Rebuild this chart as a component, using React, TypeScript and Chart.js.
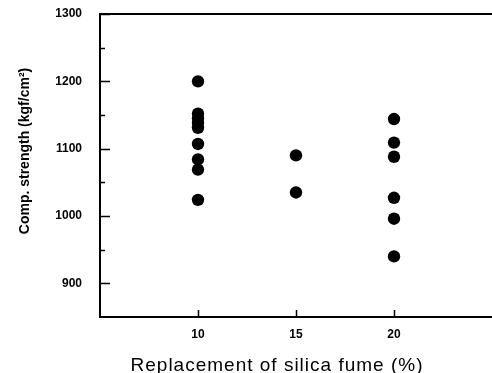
import React, { useEffect, useRef } from "react";
import { Chart, registerables } from "chart.js";

Chart.register(...registerables);

const xTickValues = [10, 15, 20];
const yTickValues = [900, 1000, 1100, 1200, 1300];
const yMinorTickValues = [950, 1050, 1150, 1250];

const replacement10 = [1200, 1152, 1145, 1138, 1131, 1107, 1084, 1069, 1024];
const replacement15 = [1090, 1035];
const replacement20 = [1144, 1109, 1088, 1027, 996, 940];

const xTitle = "Replacement of silica fume (%)";
const yTitle = "Comp. strength (kgf/cm\u00b2)";

const FONT = "'Liberation Sans', Arial, sans-serif";

const framePlugin = {
  id: "frame",
  afterDraw(chart: any) {
    const { ctx, chartArea, scales } = chart;
    const xs = scales.x;
    const ys = scales.y;
    ctx.save();
    ctx.strokeStyle = "#000";
    ctx.lineWidth = 2;
    ctx.beginPath();
    ctx.moveTo(chartArea.left, chartArea.top);
    ctx.lineTo(chartArea.right, chartArea.top);
    ctx.stroke();
    ctx.lineWidth = 1.5;
    ctx.beginPath();
    yTickValues.forEach((v) => {
      const y = Math.round(ys.getPixelForValue(v)) + 0.5;
      ctx.moveTo(chartArea.left, y);
      ctx.lineTo(chartArea.left + 10, y);
    });
    yMinorTickValues.forEach((v) => {
      const y = Math.round(ys.getPixelForValue(v)) + 0.5;
      ctx.moveTo(chartArea.left, y);
      ctx.lineTo(chartArea.left + 5, y);
    });
    xTickValues.forEach((v) => {
      const x = Math.round(xs.getPixelForValue(v)) + 0.5;
      ctx.moveTo(x, chartArea.bottom);
      ctx.lineTo(x, chartArea.bottom - 7);
    });
    ctx.stroke();
    ctx.fillStyle = "#000";
    ctx.textAlign = "center";
    ctx.textBaseline = "middle";
    ctx.font = `19px ${FONT}`;
    try { (ctx as any).letterSpacing = "1px"; } catch (e) {}
    ctx.fillText(xTitle, chartArea.left + 177, 366);
    try { (ctx as any).letterSpacing = "0px"; } catch (e) {}
    ctx.translate(25, 151);
    ctx.rotate(-Math.PI / 2);
    ctx.font = `bold 14px ${FONT}`;
    ctx.fillText(yTitle, 0, 0);
    ctx.restore();
  },
};

export default function App() {
  const ref = useRef<HTMLCanvasElement | null>(null);
  useEffect(() => {
    if (!ref.current) return;
    const mk = (xv: number, vals: number[]) => vals.map((y) => ({ x: xv, y }));
    const chart = new Chart(ref.current, {
      type: "scatter",
      data: {
        datasets: [
          {
            data: [...mk(10, replacement10), ...mk(15, replacement15), ...mk(20, replacement20)],
            backgroundColor: "#000",
            borderColor: "#000",
            pointRadius: 6.2,
            pointHoverRadius: 6.2,
            borderWidth: 0,
          },
        ],
      },
      options: {
        animation: false,
        responsive: true,
        maintainAspectRatio: false,
        layout: { autoPadding: false, padding: { top: 14, right: 0, left: 0, bottom: 0 } },
        plugins: { legend: { display: false }, tooltip: { enabled: false } },
        scales: {
          x: {
            type: "linear",
            min: 5,
            max: 25,
            afterBuildTicks: (s: any) => {
              s.ticks = xTickValues.map((v) => ({ value: v }));
            },
            afterFit: (s: any) => {
              s.height = 56;
              s.paddingLeft = 0;
              s.paddingRight = 0;
            },
            grid: { display: false, drawTicks: false },
            border: { display: true, color: "#000", width: 2 },
            ticks: {
              padding: 10,
              color: "#000",
              font: { family: FONT, size: 12, weight: "bold" },
              autoSkip: false,
              maxRotation: 0,
              callback: (v: any) => String(v),
            },
          },
          y: {
            type: "linear",
            min: 850,
            max: 1300,
            afterBuildTicks: (s: any) => {
              s.ticks = yTickValues.map((v) => ({ value: v }));
            },
            afterFit: (s: any) => {
              s.width = 100;
              s.paddingTop = 0;
              s.paddingBottom = 0;
            },
            grid: { display: false, drawTicks: false },
            border: { display: true, color: "#000", width: 2 },
            ticks: {
              padding: 18,
              color: "#000",
              font: { family: FONT, size: 12, weight: "bold" },
              callback: (v: any) => String(v),
            },
          },
        },
      },
      plugins: [framePlugin],
    });
    return () => chart.destroy();
  }, []);
  return (
    <div style={{ position: "absolute", left: 0, top: 0, width: 492, height: 373, background: "#fff" }}>
      <canvas ref={ref} />
    </div>
  );
}
